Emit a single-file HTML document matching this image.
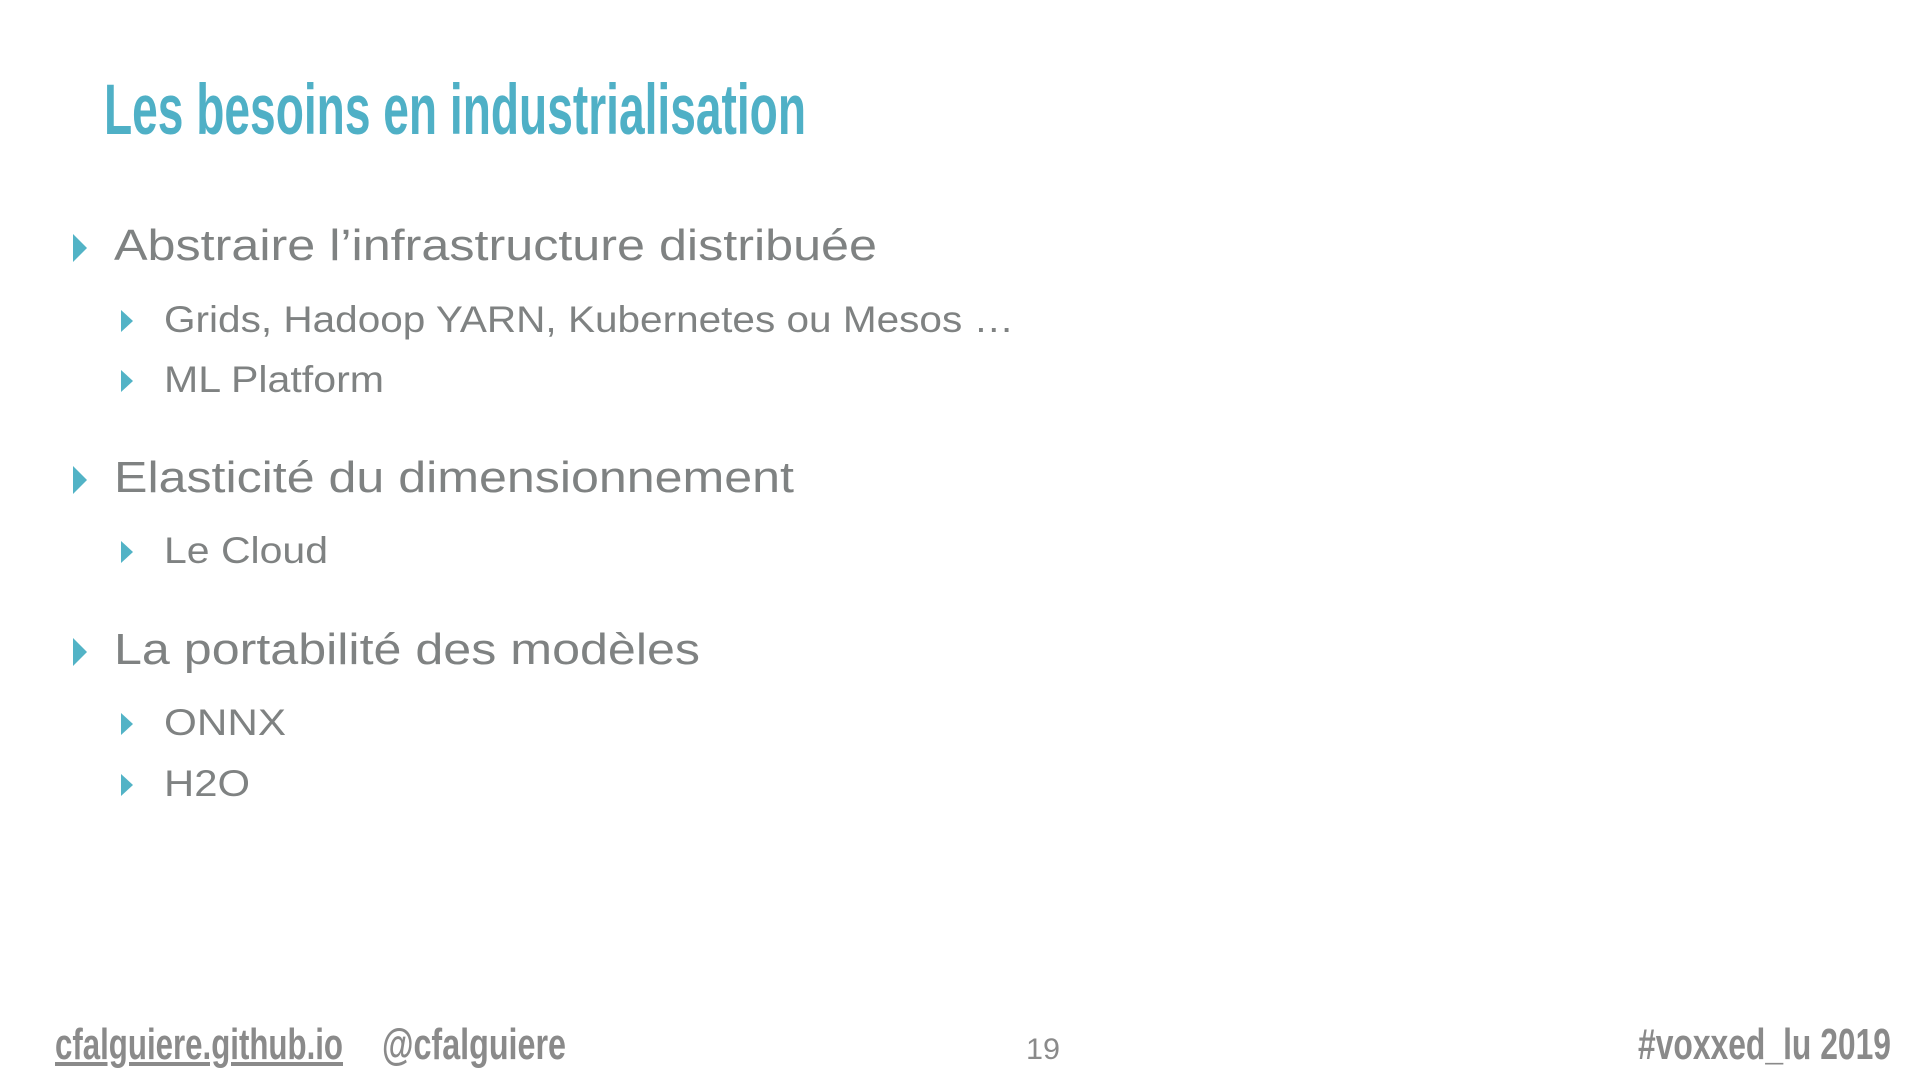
<!DOCTYPE html>
<html><head><meta charset="utf-8"><style>
html,body{margin:0;padding:0;background:#fff;}
body{width:1920px;height:1080px;position:relative;overflow:hidden;font-family:"Liberation Sans",sans-serif;}
.t{position:absolute;white-space:nowrap;line-height:1;transform-origin:0 0;}
.title{color:#4fb0c6;font-weight:bold;font-size:71px;}
.l1{color:#7f8282;font-size:44px;}
.l2{color:#7f8282;font-size:37px;}
.ft{color:#8a8a8a;font-weight:bold;font-size:44px;}
.tri{position:absolute;width:0;height:0;border-top:14.5px solid transparent;border-bottom:14.5px solid transparent;border-left:14px solid #52b3c6;}
.tri.s{border-top-width:11.5px;border-bottom-width:11.5px;border-left-width:12px;}
</style></head><body>
<div class="t title" data-w="702" style="left:104px;top:75px">Les besoins en industrialisation</div>

<div class="tri" style="left:73px;top:234px"></div>
<div class="t l1" data-w="763" style="left:114px;top:224px">Abstraire l’infrastructure distribuée</div>
<div class="tri s" style="left:121px;top:310px"></div>
<div class="t l2" data-w="850" style="left:164px;top:301px">Grids, Hadoop YARN, Kubernetes ou Mesos …</div>
<div class="tri s" style="left:121px;top:370px"></div>
<div class="t l2" data-w="220" style="left:164px;top:361px">ML Platform</div>

<div class="tri" style="left:73px;top:466px"></div>
<div class="t l1" data-w="680" style="left:114px;top:456px">Elasticité du dimensionnement</div>
<div class="tri s" style="left:121px;top:541px"></div>
<div class="t l2" data-w="164" style="left:164px;top:532px">Le Cloud</div>

<div class="tri" style="left:73px;top:638px"></div>
<div class="t l1" data-w="586" style="left:114px;top:628px">La portabilité des modèles</div>
<div class="tri s" style="left:121px;top:713px"></div>
<div class="t l2" data-w="122" style="left:164px;top:704px">ONNX</div>
<div class="tri s" style="left:121px;top:774px"></div>
<div class="t l2" data-w="86" style="left:164px;top:765px">H2O</div>

<div class="t ft" data-w="288" style="left:55px;top:1023px;text-decoration:underline">cfalguiere.github.io</div>
<div class="t ft" data-w="184" style="left:382px;top:1023px">@cfalguiere</div>
<div class="t" data-w="34" style="left:1026px;top:1035px;color:#8a8a8a;font-size:30px">19</div>
<div class="t ft" data-w="253" style="left:1638px;top:1023px">#voxxed_lu 2019</div>
<script>
document.querySelectorAll('[data-w]').forEach(function(el){
  var w=el.getBoundingClientRect().width;
  var t=parseFloat(el.getAttribute('data-w'));
  if(w>0) el.style.transform='scaleX('+(t/w)+')';
});
</script>
</body></html>
